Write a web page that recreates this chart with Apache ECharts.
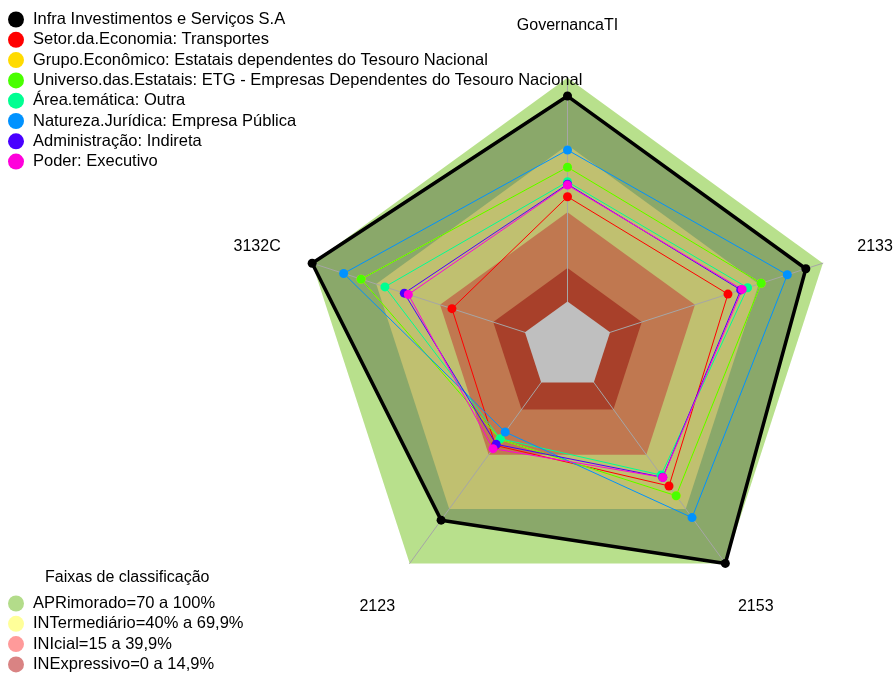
<!DOCTYPE html>
<html>
<head>
<meta charset="utf-8">
<script src="https://cdn.jsdelivr.net/npm/echarts@6/dist/echarts.min.js"></script>
<style>
  html, body { margin: 0; padding: 0; background: #ffffff; }
  #chart { width: 893px; height: 673px; }
</style>
</head>
<body>
<div id="chart"></div>
<script>
// eixos, na ordem do fmsb (sentido anti-horario a partir do topo)
const indicators = ['GovernancaTI', '3132C', '2123', '2153', '2133']

// series das entidades
const seriesNames = [
  'Infra Investimentos e Serviços S.A',
  'Setor.da.Economia: Transportes',
  'Grupo.Econômico: Estatais dependentes do Tesouro Nacional',
  'Universo.das.Estatais: ETG - Empresas Dependentes do Tesouro Nacional',
  'Área.temática: Outra',
  'Natureza.Jurídica: Empresa Pública',
  'Administração: Indireta',
  'Poder: Executivo'
]
const seriesColors = ['#000000', '#FF0000', '#FFDB00', '#49FF00', '#00FF92', '#0092FF', '#4900FF', '#FF00DB']
const infraValues = [91.8, 100, 76.1, 100, 92.0]
const setorValues = [46.8, 34.3, 34.8, 57.2, 55.4]
const grupoValues = [60.0, 77.0, 31.4, 62.6, 71.0]
const universoValues = [60.0, 77.0, 31.4, 62.6, 71.0]
const areaValues = [53.5, 65.8, 31.1, 51.2, 64.6]
const naturezaValues = [67.7, 85.2, 27.4, 74.7, 83.3]
const administracaoValues = [52.4, 56.7, 34.2, 52.4, 61.4]
const poderValues = [52.0, 54.8, 36.6, 52.5, 62.1]
const allValues = [infraValues, setorValues, grupoValues, universoValues,
  areaValues, naturezaValues, administracaoValues, poderValues]

// faixas de classificacao
const bandNames = ['APRimorado=70 a 100%', 'INTermediário=40% a 69,9%', 'INIcial=15 a 39,9%', 'INExpressivo=0 a 14,9%']
const bandLevels = [100, 69.9, 39.9, 14.9]
const bandLegendColors = ['#b3dc8a', '#ffff99', '#ff9a9a', '#d98383']
const bandFillColors = ['#b8e08c', '#c0c070', '#c07850', '#a8402a']
const infraFillColor = '#8aa86a'
const holeColor = '#bfbfbf'

const FONT = 'Liberation Sans, Arial, sans-serif'
const CENTER = [567.5, 346.2]
const RADIUS = 268.5

const nameStyle = {
  GovernancaTI: 'top', '3132C': 'left', '2123': 'bl', '2153': 'br', '2133': 'right'
}
const radarIndicators = indicators.map(name => ({ name: name, min: -20, max: 100 }))

const bandData = [
  { name: bandNames[0], value: indicators.map(() => bandLevels[0]), areaStyle: { color: bandFillColors[0], opacity: 1 } },
  { name: '', value: infraValues, areaStyle: { color: infraFillColor, opacity: 1 } },
  { name: bandNames[1], value: indicators.map(() => bandLevels[1]), areaStyle: { color: bandFillColors[1], opacity: 1 } },
  { name: bandNames[2], value: indicators.map(() => bandLevels[2]), areaStyle: { color: bandFillColors[2], opacity: 1 } },
  { name: bandNames[3], value: indicators.map(() => bandLevels[3]), areaStyle: { color: bandFillColors[3], opacity: 1 } }
]

const lineSeries = seriesNames.map((name, i) => ({
  name: name,
  type: 'radar',
  radarIndex: 0,
  z: 5,
  symbol: 'circle',
  symbolSize: 9,
  silent: true,
  itemStyle: { color: seriesColors[i] },
  lineStyle: { color: seriesColors[i], width: i === 0 ? 3.5 : 1 },
  data: [{ name: name, value: allValues[i] }]
}))

const legendText = { fontFamily: FONT, fontSize: 16.5, lineHeight: 16, color: '#000', padding: [0, 0, 0, 4] }

const chart = echarts.init(document.getElementById('chart'))
chart.setOption({
  animation: false,
  textStyle: { fontFamily: FONT },
  title: {
    text: 'Faixas de classificação',
    left: 40,
    top: 565,
    textStyle: { fontFamily: FONT, fontSize: 16, fontWeight: 'normal', color: '#000' }
  },
  legend: [{
    orient: 'vertical',
    left: 8,
    top: 11,
    padding: 0,
    icon: 'circle',
    itemWidth: 16,
    itemHeight: 16,
    itemGap: 3.3,
    selectedMode: false,
    textStyle: legendText,
    data: seriesNames
  }, {
    orient: 'vertical',
    left: 8,
    top: 595,
    height: 120,
    padding: 0,
    icon: 'circle',
    itemWidth: 16,
    itemHeight: 16,
    itemGap: 3.3,
    selectedMode: false,
    textStyle: legendText,
    data: bandNames.map((n, i) => ({ name: n, itemStyle: { color: bandLegendColors[i] } }))
  }],
  radar: [{
    z: 0,
    center: CENTER,
    radius: RADIUS,
    startAngle: 90,
    shape: 'polygon',
    splitNumber: 5,
    indicator: radarIndicators,
    nameGap: 21.5,
    axisName: {
      color: '#000',
      fontFamily: FONT,
      fontSize: 16,
      formatter: name => '{' + nameStyle[name] + '|' + name + '}',
      rich: {
        top: { fontSize: 16, fontFamily: FONT, color: '#000', padding: [0, 0, 23, 0] },
        right: { fontSize: 16, fontFamily: FONT, color: '#000', padding: [0, 0, 19, 14] },
        left: { fontSize: 16, fontFamily: FONT, color: '#000', padding: [0, 11, 19, 0] },
        bl: { fontSize: 16, fontFamily: FONT, color: '#000', padding: [52, 2, 0, 0] },
        br: { fontSize: 16, fontFamily: FONT, color: '#000', padding: [52, 0, 0, 0] }
      }
    },
    axisLine: { show: false },
    splitLine: { show: false },
    splitArea: { show: false }
  }, {
    // raios por cima das faixas
    z: 3,
    center: CENTER,
    radius: RADIUS,
    startAngle: 90,
    shape: 'polygon',
    indicator: radarIndicators,
    axisName: { show: false },
    axisLine: { show: true, lineStyle: { color: '#a6a6a6', width: 1 } },
    splitLine: { show: false },
    splitArea: { show: false }
  }],
  series: [{
    name: 'faixas',
    type: 'radar',
    radarIndex: 0,
    z: 1,
    silent: true,
    symbol: 'none',
    lineStyle: { width: 0 },
    data: bandData
  }, {
    name: 'centro',
    type: 'radar',
    radarIndex: 0,
    z: 4,
    silent: true,
    symbol: 'none',
    lineStyle: { width: 0 },
    areaStyle: { color: holeColor, opacity: 1 },
    data: [{ name: 'centro', value: indicators.map(() => 0) }]
  }].concat(lineSeries)
})
</script>
</body>
</html>
